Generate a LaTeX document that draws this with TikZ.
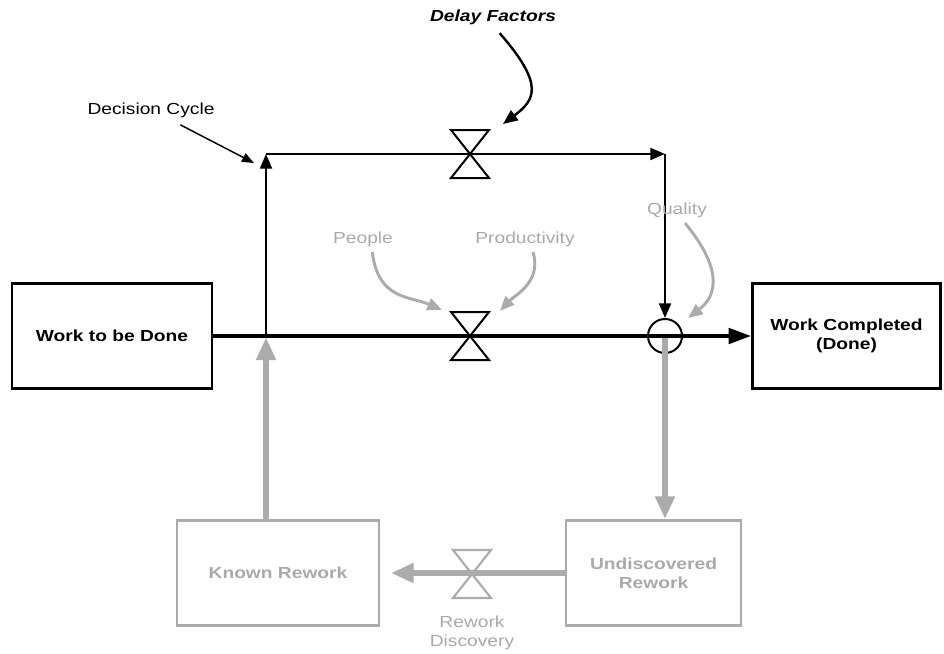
\documentclass[tikz,border=0pt]{standalone}
\usepackage{fontspec}
\setmainfont{Liberation Sans}[FakeStretch=1.2]
\usepackage{tikz}
\usetikzlibrary{positioning}
\usetikzlibrary{arrows.meta}

\definecolor{flowgrey}{HTML}{ABABAB}
\definecolor{textgrey}{HTML}{A9A9A9}

\tikzset{
    valve/.pic={\path[draw,pic actions] (-19,-24) -- (19,-24) -- (-19,24) -- (19,24) -- cycle;}
}

\begin{document}
\begin{tikzpicture}[x=0.75pt,y=-0.75pt,font=\fontsize{12}{14.5}\selectfont,
    stock/.style={draw,line width=1.9pt,align=center,font=\fontsize{12}{14.5}\selectfont\bfseries,minimum height=79pt,inner sep=0pt},
    greystock/.style={stock,draw=flowgrey,text=textgrey},
    flow/.style={line width=3pt,-{Triangle[length=17pt,width=11.5pt]}},
    ctrl/.style={line width=1.5pt,-{Triangle[length=11pt,width=9pt]}},
    reflow/.style={draw=flowgrey,line width=4.3pt,-{Triangle[length=17pt,width=14pt]}},
    info/.style={line width=1.8pt,-{Triangle[length=11pt,width=9pt]}},
    greyinfo/.style={draw=flowgrey,line width=2.2pt,-{Triangle[length=11pt,width=9pt]}},
    greylbl/.style={text=textgrey,align=center,inner sep=1pt}]
    \useasboundingbox (0,0) rectangle (944,653);

    % stocks
    \node[stock,minimum width=150pt] (todo) at (112,336) {Work to be Done};
    \node[stock,minimum width=141pt] (done) at (846.5,336) {Work Completed\\(Done)};
    \node[greystock,minimum width=151.5pt] (known) at (278,573) {Known Rework};
    \node[greystock,minimum width=131pt] (undisc) at (653.5,573) {Undiscovered\\Rework};

    % valves and junctions
    \coordinate (vdelay) at (470,154);
    \coordinate (vrate) at (470,336);
    \coordinate (vdisc) at (472,574);
    \coordinate (dcB) at (266,336);
    \coordinate (dcT) at (266,154);
    \coordinate (dcR) at (665,154);
    \node[draw,circle,line width=1.5pt,minimum size=25.5pt,inner sep=0pt] (qual) at (665,336) {};

    % rework loop
    \draw[reflow] (qual.center) -- (qual |- undisc.north);
    \draw[reflow,shorten >=8pt] (undisc.west) -- (known.east);
    \draw[reflow,shorten >=1pt] (dcB |- known.north) -- (dcB);
    \pic[draw=flowgrey,line width=1.6pt] at (vdisc) {valve};

    % main flow and decision cycle
    \draw[flow] (todo.east) -- (done.west);
    \draw[ctrl] (dcB) -- (dcT);
    \draw[ctrl] (dcT) -- (dcR);
    \draw[ctrl] (dcR) -- (qual.north);
    \pic[line width=1.5pt] at (vdelay) {valve};
    \pic[line width=1.5pt] at (vrate) {valve};

    % labels
    \node (delay) at (493,17) {\bfseries\itshape Delay Factors};
    \node (cycle) at (151,110) {Decision Cycle};
    \node[greylbl] (people) at (363,239) {People};
    \node[greylbl] (prod) at (525,239) {Productivity};
    \node[greylbl] (quality) at (677,210) {Quality};
    \node[greylbl,below=30pt of vdisc] (disc) {Rework\\Discovery};

    \coordinate (delaytip) at (503,124);
    \coordinate (cycletip) at (254,163);
    \coordinate (peopletip) at (442,310);
    \coordinate (prodtip) at (500,311);
    \coordinate (qualtip) at (688,318);

    \draw[info] ([xshift=5pt,yshift=-3pt]delay.south) .. controls (545,85) and (535,100) .. (delaytip);
    \draw[line width=1.1pt,-{Triangle[length=9pt,width=7pt]}] ([xshift=22pt,yshift=-2pt]cycle.south) -- (cycletip);
    \draw[greyinfo] ([xshift=7pt,yshift=-3pt]people.south) .. controls (378,300) and (410,296) .. (peopletip);
    \draw[greyinfo] ([xshift=6pt,yshift=-3pt]prod.south) .. controls (542,282) and (515,295) .. (prodtip);
    \draw[greyinfo] ([xshift=6pt,yshift=-3pt]quality.south) .. controls (722,268) and (718,295) .. (qualtip);
\end{tikzpicture}
\end{document}
